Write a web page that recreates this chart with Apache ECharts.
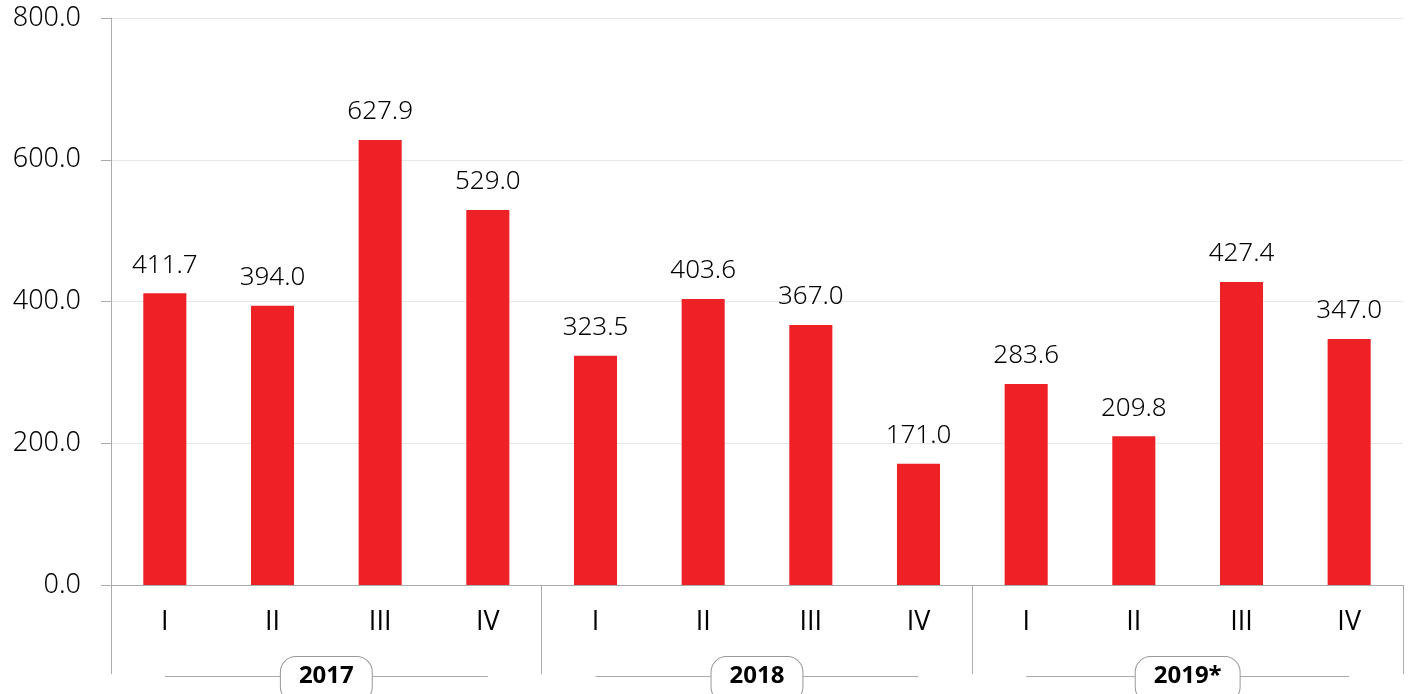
<!DOCTYPE html>
<html>
<head>
<meta charset="utf-8">
<script src="https://cdn.jsdelivr.net/npm/echarts@6/dist/echarts.min.js"></script>
<style>
  html, body { margin: 0; padding: 0; background: #fff; }
  #chart { width: 1410px; height: 694px; }
</style>
</head>
<body>
<div id="chart"></div>
<script>
var quarters = ['I', 'II', 'III', 'IV', 'I', 'II', 'III', 'IV', 'I', 'II', 'III', 'IV'];
var years = ['2017', '2018', '2019*'];
var values = [411.7, 394.0, 627.9, 529.0, 323.5, 403.6, 367.0, 171.0, 283.6, 209.8, 427.4, 347.0];
var yTicks = [0, 200, 400, 600, 800];

var fontName = '"Noto Sans", "DejaVu Sans", sans-serif';
var romanFont = '"Open Sans", "DejaVu Sans", sans-serif';
var gray = '#ababab';

var chart = echarts.init(document.getElementById('chart'));
var option = {
    animation: false,
    grid: { left: 111, right: 7, top: 18, bottom: 109, outerBoundsMode: 'none' },
    xAxis: [{
        type: 'category',
        data: quarters,
        axisLine: { lineStyle: { color: gray, width: 1 } },
        axisTick: { show: false },
        axisLabel: {
            interval: 0, margin: 24, fontSize: 27,
            color: '#000', fontFamily: romanFont
        }
    }, {
        type: 'category',
        data: years,
        position: 'bottom',
        axisLine: { show: false },
        axisTick: { show: true, length: 89, interval: 0, lineStyle: { color: gray, width: 1 } },
        axisLabel: {
            interval: 0, margin: 72, fontSize: 24, fontWeight: 'bold',
            color: '#000', fontFamily: fontName,
            backgroundColor: '#fff', borderColor: '#999', borderWidth: 1,
            borderRadius: 15, padding: [7, 18, 14, 18]
        }
    }],
    yAxis: {
        type: 'value',
        min: yTicks[0],
        max: yTicks[yTicks.length - 1],
        interval: 200,
        axisLine: { show: true, lineStyle: { color: gray, width: 1 } },
        axisTick: { show: true, length: 10, lineStyle: { color: gray } },
        splitLine: { lineStyle: { color: '#e8e8e8', width: 1 } },
        axisLabel: {
            margin: 30, fontSize: 27, fontWeight: 300, color: '#000', fontFamily: fontName,
            formatter: function (v) { return v.toFixed(1); }
        }
    },
    series: [{
        type: 'bar',
        data: values,
        barWidth: '40%',
        itemStyle: { color: '#ee2226' },
        label: {
            show: true, position: 'top', distance: 15,
            fontSize: 26, fontWeight: 300, color: '#000', fontFamily: fontName,
            formatter: function (p) { return p.value.toFixed(1); }
        }
    }]
};
chart.setOption(option);

// thin lines on both sides of the year labels, 75% of each group width
var lines = [];
years.forEach(function (y, i) {
    var left = chart.convertToPixel({ xAxisIndex: 0 }, i * 4);
    var right = chart.convertToPixel({ xAxisIndex: 0 }, i * 4 + 3);
    var step = (right - left) / 3;
    var center = (left + right) / 2;
    var half = step * 4 * 0.75 / 2;
    lines.push({
        type: 'line', z: -1,
        shape: { x1: center - half, y1: 676.5, x2: center + half, y2: 676.5 },
        style: { stroke: gray, lineWidth: 1 }
    });
});
chart.setOption({ graphic: lines });
</script>
</body>
</html>
